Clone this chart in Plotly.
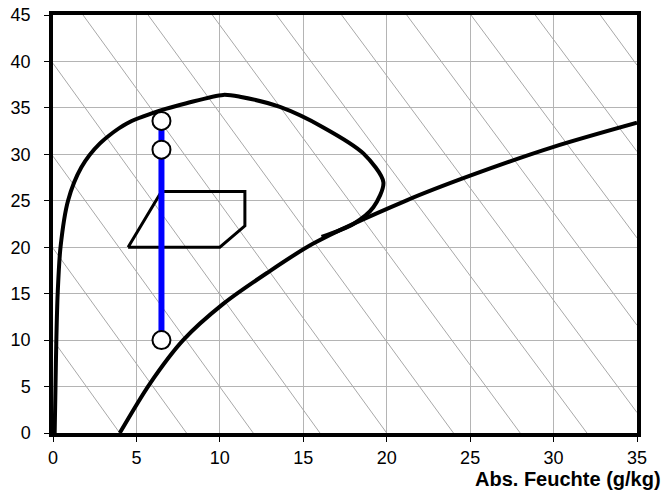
import plotly.graph_objects as go

# Enthalpy guide lines: (x0, y0, x1, y1)
enth_x0 = [0, 0, 0, 0, 1.8, 5.7, 9.55, 13.4, 17.3, 21.2, 25.05, 28.9, 32.8]
enth_y0 = [10, 19.9, 29.8, 39.8, 45, 45, 45, 45, 45, 45, 45, 45, 45]
enth_x1 = [4, 8, 12, 16, 20, 24, 28, 32, 35, 35, 35, 35, 35]
enth_y1 = [0, 0, 0, 0, 0, 0, 0, 0, 2.2, 11.6, 21.0, 30.3, 39.6]

# Envelope curve
env_x = [0.1, 0.15, 0.2, 0.28, 0.45, 0.9, 1.7, 2.8, 4.4, 6.4, 8.0, 10.2, 11.2, 13.6, 16.2, 18.6, 19.8, 19.2, 18.0, 16.1]
env_y = [0, 5, 10, 15, 20, 25, 28.6, 31.15, 33.3, 34.7, 35.5, 36.4, 36.2, 35.1, 32.9, 30.1, 27.0, 24.3, 22.5, 21.1]

# Saturation-like curve
sat_x = [4.0, 5.8, 7.8, 10.2, 12.8, 15.6, 21.2, 25.0, 30.0, 35.0]
sat_y = [0, 5.3, 10, 13.9, 17.2, 20.4, 25.05, 27.7, 30.8, 33.4]

# Polygon (comfort zone)
poly_x = [4.5, 10.0, 11.5, 11.5, 6.5, 4.5]
poly_y = [20, 20, 22.3, 26, 26, 20]

# Process line and points
proc_x = [6.5, 6.5]
proc_y = [10, 33.6]
pt_x = [6.5, 6.5, 6.5]
pt_y = [10, 30.5, 33.6]

FONT = "Liberation Sans, Arial"

fig = go.Figure()

for a, b, c, d in zip(enth_x0, enth_y0, enth_x1, enth_y1):
    fig.add_trace(go.Scatter(x=[a, c], y=[b, d], mode="lines",
                             line=dict(color="#a8a8a8", width=1),
                             showlegend=False, hoverinfo="skip"))

fig.add_trace(go.Scatter(x=env_x, y=env_y, mode="lines",
                         line=dict(color="black", width=4, shape="spline", smoothing=0.8),
                         showlegend=False))
fig.add_trace(go.Scatter(x=sat_x, y=sat_y, mode="lines",
                         line=dict(color="black", width=4, shape="spline", smoothing=0.8),
                         showlegend=False))
fig.add_trace(go.Scatter(x=poly_x, y=poly_y, mode="lines",
                         line=dict(color="black", width=3),
                         showlegend=False))
fig.add_trace(go.Scatter(x=proc_x, y=proc_y, mode="lines",
                         line=dict(color="#0000ff", width=6),
                         showlegend=False))
fig.add_trace(go.Scatter(x=pt_x, y=pt_y, mode="markers",
                         marker=dict(size=18, color="white", line=dict(color="black", width=2)),
                         showlegend=False))

axis_common = dict(showgrid=True, gridcolor="#b4b4b4", gridwidth=1, automargin=False,
                   zeroline=False, showline=True, linecolor="black", linewidth=3.5,
                   mirror=True, ticks="outside", ticklen=5, tickwidth=1, tickcolor="black",
                   tickfont=dict(family=FONT, size=18, color="black"))

fig.update_xaxes(range=[0, 35], dtick=5, tick0=0, ticklabelstandoff=1, **axis_common)
fig.update_yaxes(range=[0, 45], dtick=5, tick0=0, ticklabelstandoff=10, **axis_common)

fig.add_annotation(text="<b>Abs. Feuchte (g/kg)</b>", xref="paper", yref="paper",
                   x=1.043, y=-0.109, xanchor="right", yanchor="middle",
                   showarrow=False, borderpad=0,
                   font=dict(family=FONT, size=20, color="black"))

fig.update_layout(width=668, height=493,
                  margin=dict(l=53, r=31, t=15, b=60),
                  plot_bgcolor="white", paper_bgcolor="white")

fig.write_html("out.html", config={"displayModeBar": False},
               post_script="document.body.style.margin='0';document.body.style.overflow='hidden';")
